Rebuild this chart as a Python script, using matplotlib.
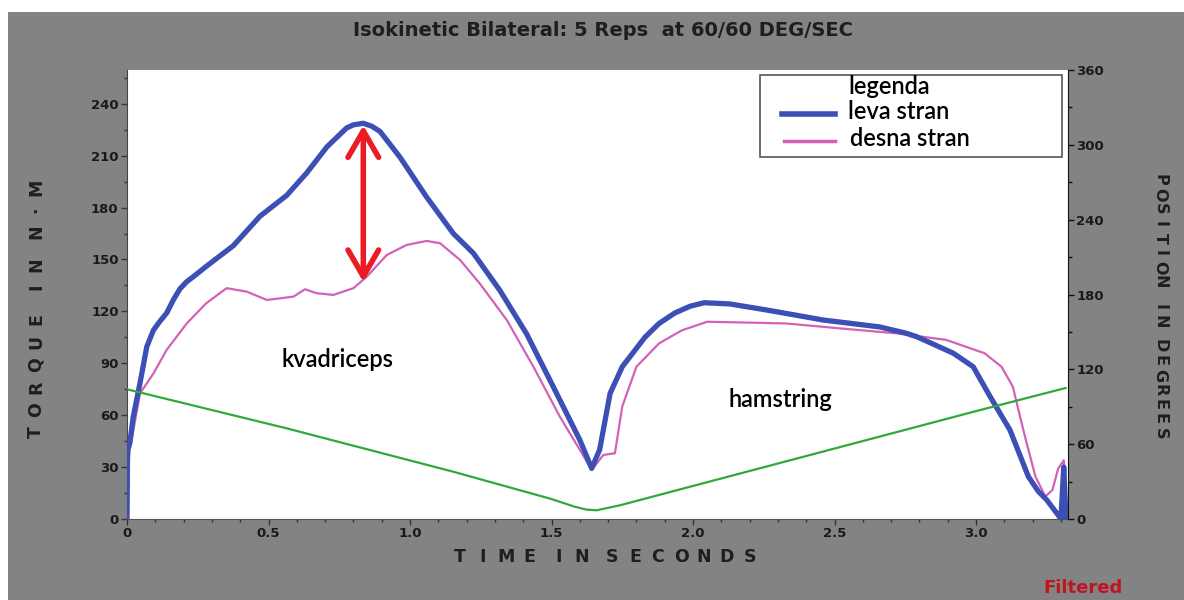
import matplotlib
matplotlib.use("Agg")
import matplotlib.pyplot as plt
from matplotlib.patches import Rectangle
from matplotlib.ticker import MultipleLocator

# dati (tempo in secondi, coppia in N*M, posizione in gradi)
t_leva = [0.0, 0.002, 0.01, 0.022, 0.046, 0.07, 0.093, 0.115, 0.14, 0.165, 0.187, 0.21,
          0.234, 0.28, 0.376, 0.47, 0.564, 0.635, 0.706, 0.776, 0.80, 0.835, 0.865,
          0.894, 0.965, 1.059, 1.153, 1.224, 1.318, 1.412, 1.506, 1.60, 1.642, 1.67,
          1.707, 1.75, 1.83, 1.88, 1.935, 1.99, 2.04, 2.13, 2.26, 2.46, 2.66, 2.75, 2.79,
          2.92, 2.99, 3.05, 3.12, 3.185, 3.22, 3.25, 3.29, 3.30, 3.31, 3.318]
torque_leva = [0, 40, 44, 59, 78.6, 99.6, 109, 114, 119, 127, 133, 137,
               140, 146, 158, 175, 187, 200, 215, 226, 227.8, 228.7, 227,
               224, 209, 186, 165, 153.6, 132, 107, 76.5, 45.7, 29.3, 40,
               72.6, 88, 105, 113, 119, 123, 125, 124.3, 120.8, 115, 111, 107.5, 105.4,
               95.8, 88, 70.7, 51.4, 24.5, 16, 11, 2.3, 0, 30, 0]

t_desna = [0.0, 0.003, 0.01, 0.046, 0.093, 0.14, 0.211, 0.28, 0.352, 0.423, 0.494, 0.588,
           0.629, 0.67, 0.729, 0.80, 0.847, 0.918, 0.988, 1.059, 1.106, 1.177, 1.247,
           1.342, 1.436, 1.53, 1.60, 1.642, 1.683, 1.724, 1.75, 1.80, 1.88, 1.96, 2.05,
           2.2, 2.33, 2.53, 2.72, 2.895, 3.03, 3.09, 3.13, 3.17, 3.21, 3.245, 3.27, 3.29,
           3.31, 3.318]
torque_desna = [0, 30, 40, 72.6, 84, 97.7, 113, 124.7, 133.4, 131.4, 126.6, 128.5,
                132.8, 130.5, 129.5, 133.4, 140, 152.6, 158.4, 160.7, 159.4, 149.7, 136,
                115, 88, 59, 40, 28.3, 37, 38, 65, 88, 101.5, 109, 114,
                113.5, 113, 110, 107.3, 103.5, 95.8, 88, 76.5, 49.5, 24.5, 13, 16.8, 29,
                34, 0]

t_pos = [0.0, 0.564, 1.153, 1.5, 1.58, 1.624, 1.66, 1.742, 2.0, 2.5, 3.0, 3.316]
pos_deg = [104, 72.7, 37.9, 16, 10, 7.5, 7, 11, 26.5, 56.5, 86.5, 105]

torque_ticks = [0, 30, 60, 90, 120, 150, 180, 210, 240]
pos_ticks = [0, 60, 120, 180, 240, 300, 360]
time_ticks = [0, 0.5, 1.0, 1.5, 2.0, 2.5, 3.0]
time_labels = ["0", "0.5", "1.0", "1.5", "2.0", "2.5", "3.0"]

# picco e valle per la freccia rossa
freccia_t = 0.835
freccia_top = 227.5
freccia_bottom = 137

W, H = 1184, 600
sfondo = "#838383"
blu = "#3c4fb4"
rosa = "#d361b8"
verde = "#2faa38"

fig = plt.figure(figsize=(W / 100, H / 100), dpi=100)
fig.patch.set_facecolor("white")
fig.patches.append(Rectangle((8 / W, 0), 1, 1 - 12 / H, transform=fig.transFigure,
                             facecolor=sfondo, edgecolor="none", zorder=-10))


def px(x, y):
    # da pixel (origine in alto a sinistra) a frazione della figura
    return x / W, 1 - y / H


def testo_spaziato(testo, x0, y0, passo, extra, direzione, rotation=0, **kw):
    # scrive le lettere una a una con passo fisso (stile vecchio software)
    pos = 0
    for ch in testo:
        if ch == " ":
            pos += extra
            continue
        if direzione == "destra":
            x, y = x0 + pos, y0
        elif direzione == "su":
            x, y = x0, y0 - pos
        else:
            x, y = x0, y0 + pos
        fig.text(*px(x, y), ch, rotation=rotation, ha="center", va="center", **kw)
        pos += passo


ax = fig.add_axes([127 / W, 1 - 519 / H, (1068 - 127) / W, (519 - 70) / H])
ax.set_facecolor("white")
ax2 = ax.twinx()

ax.plot(t_desna, torque_desna, color=rosa, lw=1.6, zorder=3, solid_joinstyle="round")
ax.plot(t_leva, torque_leva, color=blu, lw=3.8, zorder=4, solid_joinstyle="round")
ax2.plot(t_pos, pos_deg, color=verde, lw=1.6)

ax.set_xlim(0, 3.325)
ax.set_ylim(0, 259.5)
ax2.set_ylim(0, 360)

for a in (ax, ax2):
    a.spines["top"].set_visible(False)
    a.spines["left"].set_color("#444444")
    a.spines["bottom"].set_color("#555555")
    a.spines["right"].set_color("#111111")
ax.spines["right"].set_visible(False)
ax2.spines["left"].set_visible(False)
ax2.spines["bottom"].set_visible(False)

tick_font = dict(fontsize=9.5, fontweight="bold", color="#1a1a1a", family="DejaVu Sans")
ax.set_xticks(time_ticks)
ax.set_xticklabels(time_labels, **tick_font)
ax.set_yticks(torque_ticks)
ax.set_yticklabels([str(v) for v in torque_ticks], **tick_font)
ax2.set_yticks(pos_ticks)
ax2.set_yticklabels([str(v) for v in pos_ticks], **tick_font)
ax.xaxis.set_minor_locator(MultipleLocator(0.1))
ax.yaxis.set_minor_locator(MultipleLocator(15))
ax2.yaxis.set_minor_locator(MultipleLocator(30))
ax.tick_params(axis="both", which="major", length=4, width=1, color="#333333", pad=2)
ax.tick_params(axis="both", which="minor", length=2, width=1, color="#333333")
ax2.tick_params(axis="y", which="major", length=4, width=1, color="#111111", pad=2)
ax2.tick_params(axis="y", which="minor", length=3, width=1, color="#111111")

lab_font = dict(fontsize=12.5, fontweight="bold", color="#1e1e1e", family="DejaVu Sans")
testo_spaziato("TORQUE IN N·M", 36, 432, 22.5, 10, "su", rotation=90, **lab_font)
testo_spaziato("POSITION IN DEGREES", 1160, 180, 14.6, 10, "giu", rotation=270,
               fontsize=11.5, fontweight="bold", color="#1e1e1e", family="DejaVu Sans")
testo_spaziato("TIME IN SECONDS", 460, 557, 23, 7, "destra", **lab_font)

fig.text(*px(603, 31), "Isokinetic Bilateral: 5 Reps  at 60/60 DEG/SEC",
         ha="center", va="center", fontsize=14, fontweight="bold", color="#1e1e1e",
         family="DejaVu Sans")
fig.text(*px(1083, 588), "Filtered", ha="center", va="center",
         fontsize=13, fontweight="bold", color="#c0141e", family="DejaVu Sans")

# freccia rossa tra le due curve
ax.annotate("", xy=(freccia_t, freccia_top), xytext=(freccia_t, freccia_bottom),
            arrowprops=dict(arrowstyle="<->,head_length=1.9,head_width=1.1",
                            color="#ec1c24", lw=4, shrinkA=0, shrinkB=0,
                            capstyle="round", joinstyle="round"), zorder=6)

note_font = dict(fontsize=17, fontweight="semibold", color="black", family="Lato")
ax.text(0.745, 92, "kvadriceps", ha="center", va="center", **note_font)
ax.text(2.31, 69, "hamstring", ha="center", va="center", **note_font)

# legenda fatta a mano
fig.patches.append(Rectangle(px(760, 157), (1062 - 760) / W, (157 - 75) / H,
                             transform=fig.transFigure, facecolor="white",
                             edgecolor="#555555", lw=1.2, zorder=8))
fig.text(*px(848, 87), "legenda", ha="left", va="center", zorder=9, **note_font)
fig.text(*px(848, 111), "leva stran", ha="left", va="center", zorder=9, **note_font)
fig.text(*px(850, 138), "desna stran", ha="left", va="center", zorder=9, **note_font)
x1, y1 = px(782, 114)
x2, _ = px(835, 114)
fig.lines.append(plt.Line2D([x1, x2], [y1, y1], transform=fig.transFigure,
                            color=blu, lw=4, zorder=9))
x1, y1 = px(784, 141)
x2, _ = px(835, 141)
fig.lines.append(plt.Line2D([x1, x2], [y1, y1], transform=fig.transFigure,
                            color=rosa, lw=2.5, zorder=9))

fig.savefig("out.png", dpi=100)
